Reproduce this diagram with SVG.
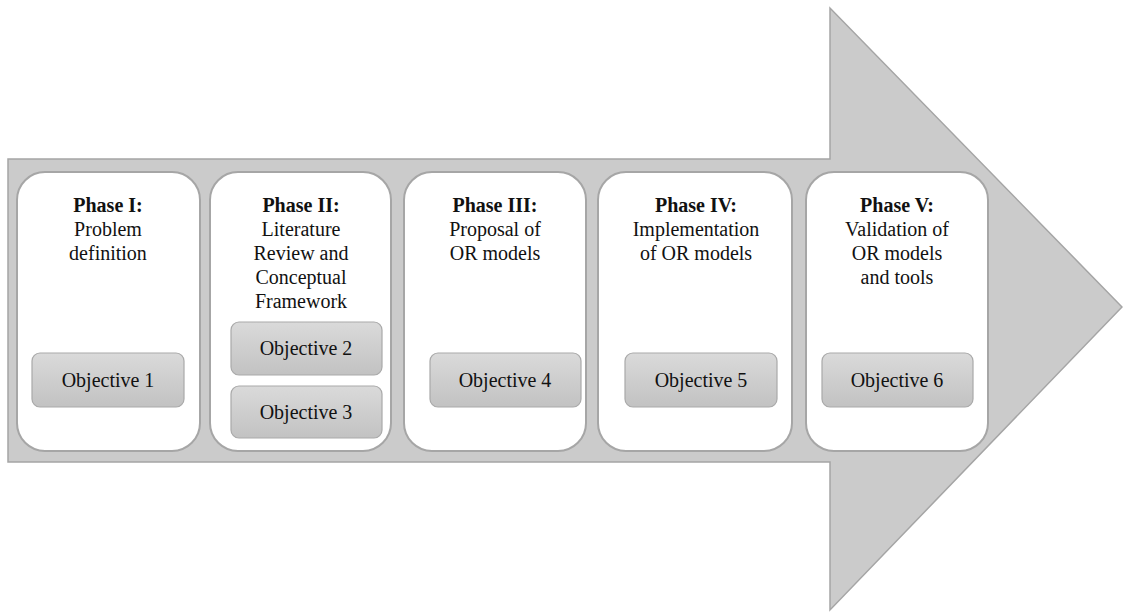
<svg xmlns="http://www.w3.org/2000/svg" width="1123" height="612" viewBox="0 0 1123 612">
<defs>
<linearGradient id="objGrad" x1="0" y1="0" x2="0" y2="1">
<stop offset="0" stop-color="#dadada"/>
<stop offset="1" stop-color="#c2c2c2"/>
</linearGradient>
<style>
.phase{fill:#ffffff;stroke:#a6a6a6;stroke-width:2}
.obj{fill:url(#objGrad);stroke:#a9a9a9;stroke-width:1.2}
.t{font-family:'Times New Roman','Liberation Serif',serif;font-size:20px;fill:#111111;text-anchor:middle}
.b{font-weight:bold}
</style>
</defs>
<rect width="1123" height="612" fill="#ffffff"/>
<g id="arrow">
<path d="M8,159 H830 V8 L1122,307 L830,610 V462 H8 Z" fill="#cbcbcb" stroke="#a5a5a5" stroke-width="1.5"/>
</g>
<g id="connectors"/>
<g id="phase1">
<rect class="phase" x="17" y="172" width="183" height="279" rx="28"/>
<text class="t b" x="108" y="212">Phase I:</text>
<text class="t" x="108" y="236">Problem</text>
<text class="t" x="108" y="260">definition</text>
<g id="objective1">
<rect class="obj" x="32" y="353" width="152" height="54" rx="8"/>
<text class="t" x="108" y="387">Objective 1</text>
</g>
</g>
<g id="phase2">
<rect class="phase" x="210" y="172" width="181" height="279" rx="28"/>
<text class="t b" x="301" y="212">Phase II:</text>
<text class="t" x="301" y="236">Literature</text>
<text class="t" x="301" y="260">Review and</text>
<text class="t" x="301" y="284">Conceptual</text>
<text class="t" x="301" y="308">Framework</text>
<g id="objective2">
<rect class="obj" x="231" y="322" width="151" height="53" rx="8"/>
<text class="t" x="306" y="355">Objective 2</text>
</g>
<g id="objective3">
<rect class="obj" x="231" y="386" width="151" height="52" rx="8"/>
<text class="t" x="306" y="419">Objective 3</text>
</g>
</g>
<g id="phase3">
<rect class="phase" x="404" y="172" width="182" height="279" rx="28"/>
<text class="t b" x="495" y="212">Phase III:</text>
<text class="t" x="495" y="236">Proposal of</text>
<text class="t" x="495" y="260">OR models</text>
<g id="objective4">
<rect class="obj" x="430" y="353" width="151" height="54" rx="8"/>
<text class="t" x="505" y="387">Objective 4</text>
</g>
</g>
<g id="phase4">
<rect class="phase" x="598" y="172" width="194" height="279" rx="28"/>
<text class="t b" x="696" y="212">Phase IV:</text>
<text class="t" x="696" y="236">Implementation</text>
<text class="t" x="696" y="260">of OR models</text>
<g id="objective5">
<rect class="obj" x="625" y="353" width="152" height="54" rx="8"/>
<text class="t" x="701" y="387">Objective 5</text>
</g>
</g>
<g id="phase5">
<rect class="phase" x="806" y="172" width="182" height="279" rx="28"/>
<text class="t b" x="897" y="212">Phase V:</text>
<text class="t" x="897" y="236">Validation of</text>
<text class="t" x="897" y="260">OR models</text>
<text class="t" x="897" y="284">and tools</text>
<g id="objective6">
<rect class="obj" x="822" y="353" width="151" height="54" rx="8"/>
<text class="t" x="897" y="387">Objective 6</text>
</g>
</g>
</svg>
